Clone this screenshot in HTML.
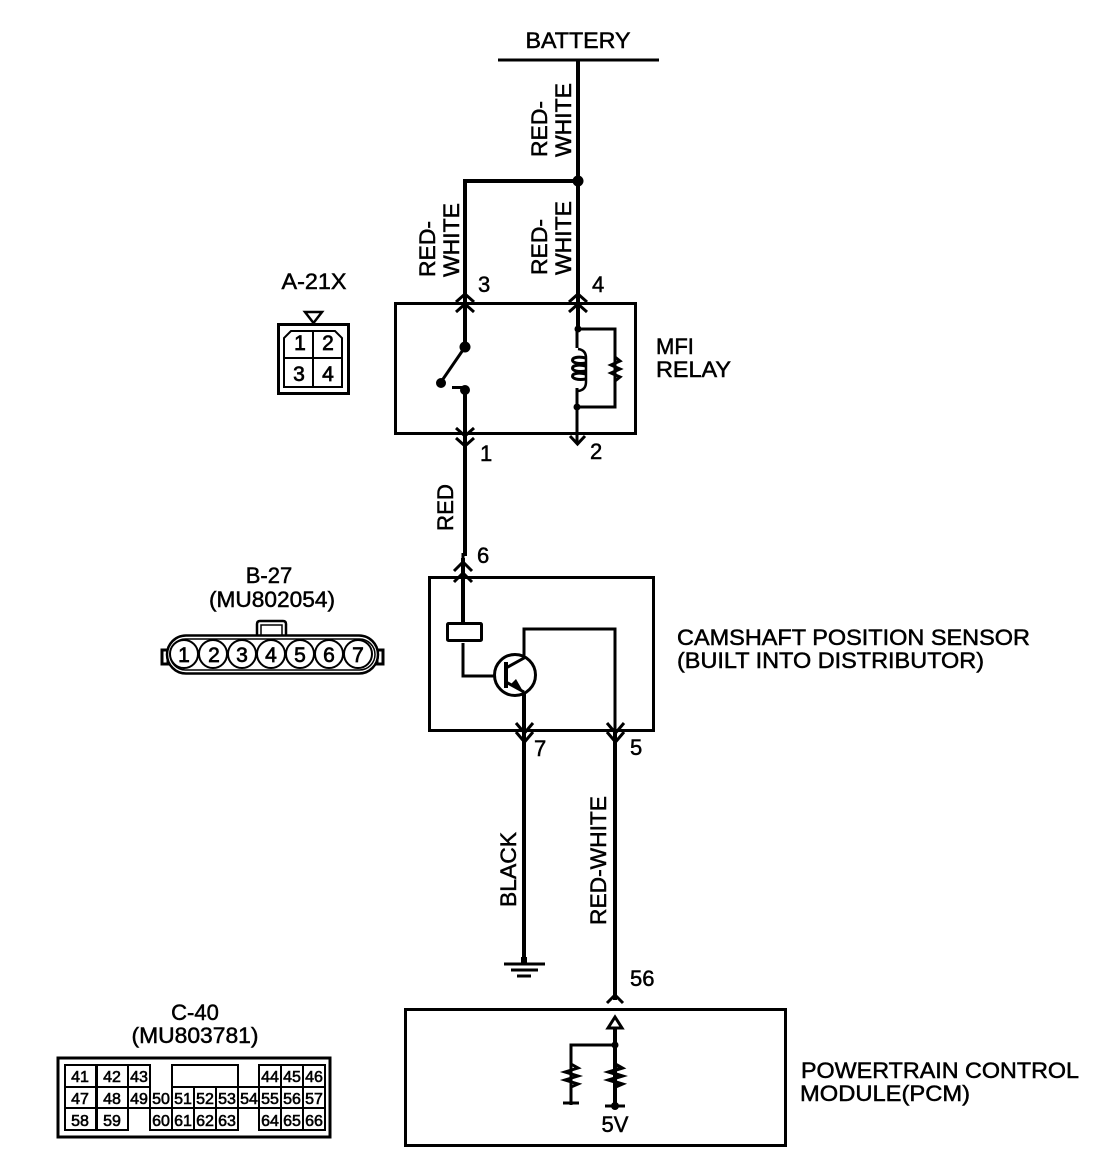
<!DOCTYPE html>
<html><head><meta charset="utf-8"><style>
html,body{margin:0;padding:0;background:#fff}
svg{display:block}
text{font-family:"Liberation Sans",sans-serif;fill:#000;font-size:22px;stroke:#000;stroke-width:.5}
.c{text-anchor:middle}
.s{font-size:16px;text-anchor:middle;stroke-width:.6}
.p{font-size:21px;text-anchor:middle;stroke-width:.7}
</style></head><body>
<svg width="1120" height="1172" viewBox="0 0 1120 1172" xmlns="http://www.w3.org/2000/svg">
<g fill="none" stroke="#000" stroke-width="3">
<!-- battery -->
<path d="M498 60H659"/>
<path d="M578 60V181M578 181V328M465 290V181H578" stroke-width="4"/>
<!-- relay -->
<rect x="395.500" y="303.500" width="240" height="130"/>
<path d="M465 290V347M465 390V556" stroke-width="4"/>
<path d="M456 302L465 294L474 302M456 312L465 304L474 312M456 428L465 436L474 428M456 438L465 446L474 438" stroke-width="3"/>
<path d="M569 302L578 294L587 302M569 312L578 304L587 312M570 436L577.500 444L585 436"/>
<path d="M465 347L441 382" stroke-width="3"/>
<path d="M577 328V348M577 388V443" stroke-width="3"/>
<path d="M577 329H615V407H577" stroke-width="3"/>
<path d="M578 349Q586 350 586 358V382Q586 390 578 391" stroke-width="2.500"/>
<path d="M586 358C568 354 568 366 586 363M586 366C568 362 568 374 586 371M586 374C568 370 568 382 586 379" stroke-width="3"/>
<path d="M615 357L620 361L611 365L620 369L611 373L620 377L615 381" stroke-width="3"/>
<!-- sensor -->
<rect x="429.500" y="577.500" width="224" height="153"/>
<path d="M463 553V623M463 643V676H494" stroke-width="3"/>
<path d="M463 558V623" stroke-width="4"/>
<path d="M454 571L463 562L472 571M454 582L463 573L472 582"/>
<rect x="447.500" y="623.500" width="34" height="17" rx="1"/>
<circle cx="515" cy="675" r="20.500"/>
<path d="M506 662V688" stroke-width="4"/>
<path d="M506 668L524 658V629H615V750M506 682L524 692" stroke-width="3"/>
<path d="M524 692V960" stroke-width="4"/>
<path d="M615 730V1000" stroke-width="4"/>
<path d="M516 723L524.500 733L533 723M516 732L524.500 742L533 732M607 723L615.500 733L624 723M607 732L615.500 742L624 732"/>
<!-- ground -->
<path d="M504 964H545M511 970H538M517 976H531"/>
<rect x="521" y="957" width="6" height="6" fill="#000" stroke="none"/>
<!-- PCM -->
<rect x="405.500" y="1009.500" width="380" height="136"/>
<path d="M607 1003L615 995L623 1003"/>
<path d="M615 1028V1105" stroke-width="4"/>
<path d="M608 1028L615 1017L622 1028Z"/>
<path d="M615 1045H571V1105" />
<path d="M563 1103H579M605 1106H625"/>
<path d="M571 1064L578 1068L565 1072L578 1076L565 1080L578 1084L571 1087" stroke-width="3"/>
<path d="M615 1064L622 1068L609 1072L622 1076L609 1080L622 1084L615 1087" stroke-width="3.500"/>
<!-- A-21X connector -->
<rect x="278.500" y="324.500" width="70" height="69"/>
<path d="M284 381V338L291 331H335L342 338V387H284V358H342M313 331V387" stroke-width="2"/>
<path d="M305 312H322L313.500 323Z" stroke-width="2.500"/>
<!-- B-27 connector -->
<rect x="162" y="650" width="6" height="14" stroke-width="3"/>
<rect x="377" y="650" width="6" height="14" stroke-width="3"/>
<rect x="167" y="635.500" width="211" height="38" rx="19" stroke-width="2.500" fill="#fff"/>
<rect x="170" y="639" width="205" height="31" rx="15.500" stroke-width="1.500"/>
<path d="M257 635V624Q257 621 260 621H283Q286 621 286 624V635" stroke-width="2.500"/>
<path d="M261 635V625H282V635" stroke-width="1.500"/>
<g stroke-width="2" fill="#fff">
<circle cx="184" cy="654" r="14"/><circle cx="213" cy="654" r="14"/><circle cx="242" cy="654" r="14"/><circle cx="271" cy="654" r="14"/><circle cx="300" cy="654" r="14"/><circle cx="329" cy="654" r="14"/><circle cx="358" cy="654" r="14"/>
</g>
<!-- C-40 connector -->
<rect x="58" y="1058" width="272" height="79" stroke-width="3"/>
<g stroke-width="2">
<path d="M65 1065H96V1130H65ZM97 1065H128V1130H97Z"/>
<path d="M65 1087H128M65 1108H128"/>
<path d="M128 1065H150V1087H128M128 1087V1108H172M150 1087V1130H238V1087M150 1108H238"/>
<path d="M172 1065H238V1087H172ZM172 1087V1130M194 1087V1130M216 1087V1130"/>
<path d="M238 1087H259V1108H238"/>
<path d="M259 1065H325V1130H259ZM259 1087H325M259 1108H325M281 1065V1130M303 1065V1130"/>
</g>
</g>
<g fill="#000">
<circle cx="578" cy="181" r="5.500"/>
<circle cx="465" cy="347" r="5.500"/><circle cx="441" cy="383" r="5"/><circle cx="465" cy="390" r="5"/>
<rect x="452" y="386" width="12" height="3"/>
<circle cx="578" cy="329" r="3.500"/><circle cx="577" cy="407" r="3.500"/>
<circle cx="615" cy="1045" r="3.500"/>
<circle cx="615" cy="1106" r="4"/>
<path d="M524 693L511 684L516 679Z"/>
</g>
<!-- labels -->
<text x="578" y="48" class="c" textLength="105" lengthAdjust="spacingAndGlyphs">BATTERY</text>
<g>
<text transform="translate(547,157) rotate(-90)" textLength="56" lengthAdjust="spacingAndGlyphs">RED-</text>
<text transform="translate(571,157) rotate(-90)" textLength="74" lengthAdjust="spacingAndGlyphs">WHITE</text>
<text transform="translate(435,277) rotate(-90)" textLength="56" lengthAdjust="spacingAndGlyphs">RED-</text>
<text transform="translate(459,277) rotate(-90)" textLength="74" lengthAdjust="spacingAndGlyphs">WHITE</text>
<text transform="translate(547,275) rotate(-90)" textLength="56" lengthAdjust="spacingAndGlyphs">RED-</text>
<text transform="translate(571,275) rotate(-90)" textLength="74" lengthAdjust="spacingAndGlyphs">WHITE</text>
<text transform="translate(453,531) rotate(-90)" textLength="47" lengthAdjust="spacingAndGlyphs">RED</text>
<text transform="translate(516,907) rotate(-90)" textLength="75" lengthAdjust="spacingAndGlyphs">BLACK</text>
<text transform="translate(606,925) rotate(-90)" textLength="129" lengthAdjust="spacingAndGlyphs">RED-WHITE</text>
</g>
<text x="478" y="292">3</text><text x="592" y="292">4</text>
<text x="480" y="461">1</text><text x="590" y="459">2</text>
<text x="477" y="563">6</text>
<text x="534" y="756">7</text><text x="630" y="755">5</text>
<text x="630" y="986">56</text>
<text x="656" y="354">MFI</text><text x="656" y="377" textLength="75" lengthAdjust="spacingAndGlyphs">RELAY</text>
<text x="677" y="645" textLength="353" lengthAdjust="spacingAndGlyphs">CAMSHAFT POSITION SENSOR</text>
<text x="677" y="668" textLength="307" lengthAdjust="spacingAndGlyphs">(BUILT INTO DISTRIBUTOR)</text>
<text x="801" y="1078" textLength="278" lengthAdjust="spacingAndGlyphs">POWERTRAIN CONTROL</text>
<text x="800" y="1101" textLength="170" lengthAdjust="spacingAndGlyphs">MODULE(PCM)</text>
<text x="615" y="1132" class="c">5V</text>
<text x="314" y="289" class="c" textLength="65" lengthAdjust="spacingAndGlyphs">A-21X</text>
<text x="269" y="583" class="c">B-27</text>
<text x="272" y="607" class="c" textLength="126" lengthAdjust="spacingAndGlyphs">(MU802054)</text>
<text x="195" y="1020" class="c">C-40</text>
<text x="195" y="1043" class="c" textLength="127" lengthAdjust="spacingAndGlyphs">(MU803781)</text>
<text class="p" x="300" y="350">1</text><text class="p" x="328" y="350">2</text><text class="p" x="299" y="381">3</text><text class="p" x="328" y="381">4</text>
<g>
<text class="p" x="184" y="662">1</text><text class="p" x="214" y="662">2</text><text class="p" x="242" y="662">3</text><text class="p" x="271" y="662">4</text><text class="p" x="300" y="662">5</text><text class="p" x="329" y="662">6</text><text class="p" x="358" y="662">7</text>
</g>
<g>
<text class="s" x="80" y="1082">41</text><text class="s" x="112" y="1082">42</text><text class="s" x="139" y="1082">43</text><text class="s" x="270" y="1082">44</text><text class="s" x="292" y="1082">45</text><text class="s" x="314" y="1082">46</text>
<text class="s" x="80" y="1104">47</text><text class="s" x="112" y="1104">48</text><text class="s" x="139" y="1104">49</text><text class="s" x="161" y="1104">50</text><text class="s" x="183" y="1104">51</text><text class="s" x="205" y="1104">52</text><text class="s" x="227" y="1104">53</text><text class="s" x="249" y="1104">54</text><text class="s" x="270" y="1104">55</text><text class="s" x="292" y="1104">56</text><text class="s" x="314" y="1104">57</text>
<text class="s" x="80" y="1126">58</text><text class="s" x="112" y="1126">59</text><text class="s" x="161" y="1126">60</text><text class="s" x="183" y="1126">61</text><text class="s" x="205" y="1126">62</text><text class="s" x="227" y="1126">63</text><text class="s" x="270" y="1126">64</text><text class="s" x="292" y="1126">65</text><text class="s" x="314" y="1126">66</text>
</g>
</svg>
</body></html>
